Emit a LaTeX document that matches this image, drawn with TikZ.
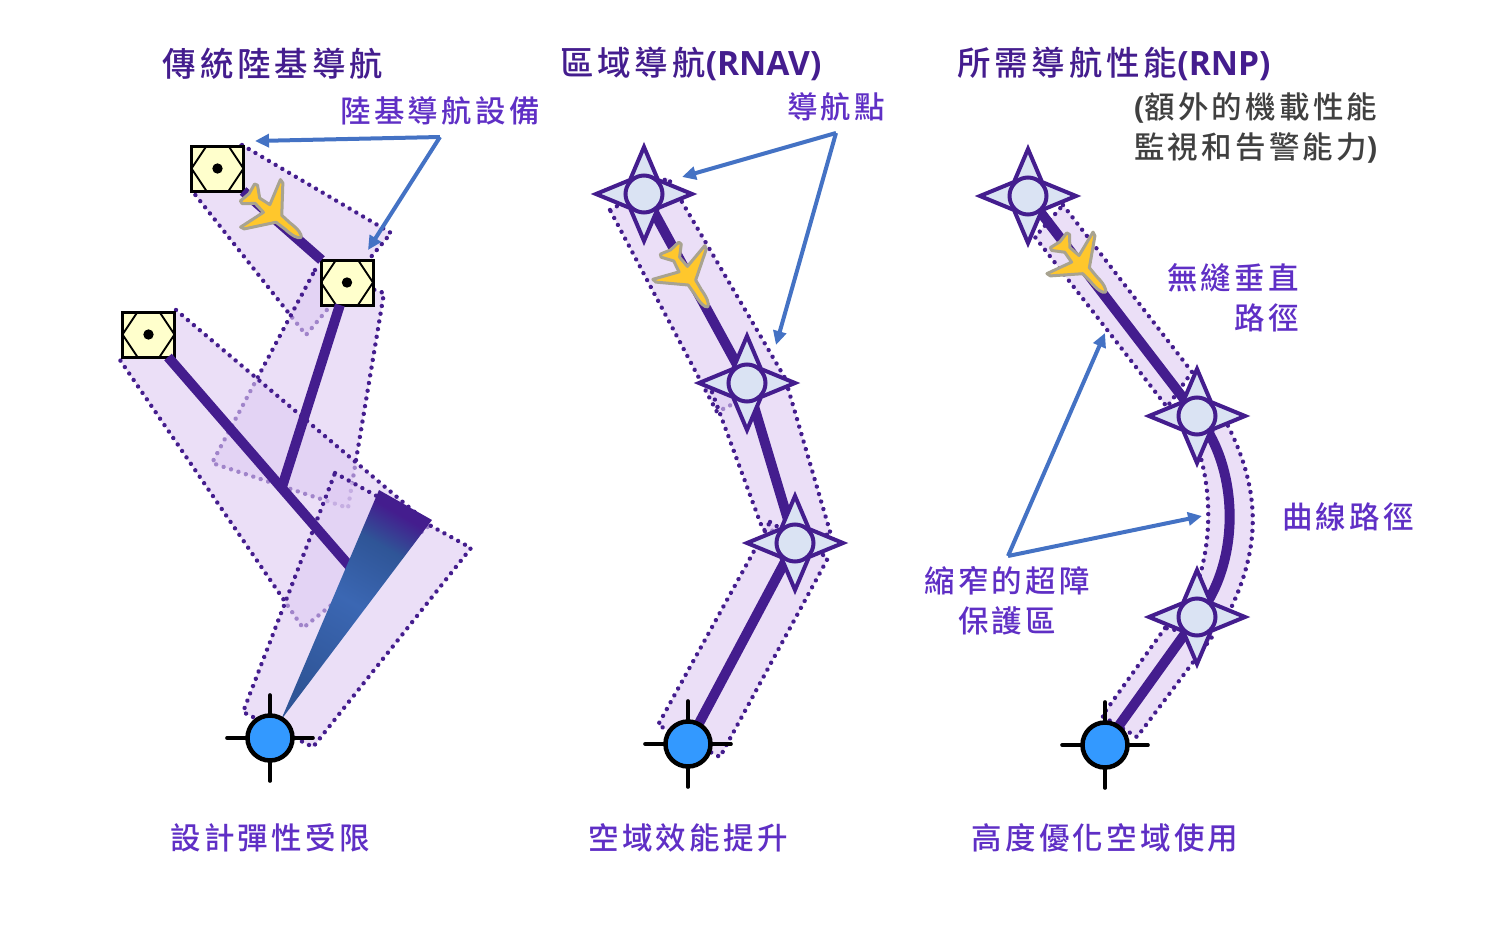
\documentclass[tikz,border=0pt]{standalone}
\usepackage{fontspec}
\usetikzlibrary{arrows.meta}
\newfontfamily\cjkA[LetterSpace=11.5]{Noto Sans CJK TC Medium}
\newfontfamily\cjkB[LetterSpace=10.5]{Noto Sans CJK TC Medium}
\newfontfamily\latB{Open Sans Bold}
\definecolor{deep}{HTML}{441D8E}
\definecolor{mid}{HTML}{5F2FC5}
\definecolor{grey}{HTML}{404040}
\definecolor{cor}{HTML}{DECAF2}
\definecolor{wayfill}{HTML}{DAE3F3}
\definecolor{arrowblue}{HTML}{4472C4}
\definecolor{gold}{HTML}{FFC72C}
\definecolor{planeedge}{HTML}{A8A390}
\definecolor{wa}{HTML}{2F5597}
\definecolor{wb}{HTML}{3B67B3}
\definecolor{wc}{HTML}{2F5597}
\definecolor{wd}{HTML}{441D8E}
\definecolor{apblue}{HTML}{3399FF}
\definecolor{boxfill}{HTML}{FFFFCC}
\pgfdeclareverticalshading{wedgefill}{100bp}{color(0bp)=(wa);color(25bp)=(wa);color(50bp)=(wb);color(66bp)=(wc);color(75bp)=(wd);color(100bp)=(wd)}
\tikzset{
  corridor/.style={fill=cor,fill opacity=.6,draw=deep,line width=4.4pt,line cap=round,line join=round,dash pattern=on 0.01pt off 7.8pt},
  track/.style={draw=deep,line width=10pt},
  nbox/.style={draw=black,fill=boxfill,line width=3pt,minimum width=52pt,minimum height=45pt,inner sep=0pt,outer sep=0pt},
  wayring/.style={circle,draw=deep,fill=wayfill,line width=4pt,minimum size=37pt,inner sep=0pt},
  airport/.style={circle,draw=black,fill=apblue,line width=4.5pt,minimum size=45pt,inner sep=0pt},
  callout/.style={draw=arrowblue,line width=4pt,-{Triangle[length=14pt,width=13pt]}},
  title/.style={text=deep,inner sep=0pt,font=\fontsize{33.5}{40}\selectfont\cjkA},
  lab/.style={text=mid,inner sep=0pt,font=\fontsize{30.5}{40}\selectfont\cjkB},
  note/.style={text=grey,inner sep=0pt,font=\fontsize{30.5}{40}\selectfont\cjkB,align=left},
}
\newcommand\navaid[3]{%
  \node[nbox] (#1) at (#2,#3) {};
  \begin{scope}[shift={(#2,#3)}]
    \draw[black,line width=1.9pt,line join=round] (-26,0)--(-11,-22.5)--(11,-22.5)--(26,0)--(11,22.5)--(-11,22.5)--cycle;
    \fill[black] (0,0) circle (5.2);
  \end{scope}}
\newcommand\waypoint[3]{%
  \draw[deep,fill=wayfill,line width=4pt,line join=miter,shift={(#2,#3)}]
    (0,-47)--(14,-14)--(48,0)--(14,14)--(0,47)--(-14,14)--(-48,0)--(-14,-14)--cycle;
  \node[wayring] (#1) at (#2,#3) {};}
\newcommand\field[3]{%
  \draw[black,line width=3.6pt,line cap=round,shift={(#2,#3)}] (-43,0)--(43,0) (0,-43)--(0,43);
  \node[airport] (#1) at (#2,#3) {};}
\newcommand\plane[3]{%
  \draw[planeedge,fill=gold,line width=3pt,line join=round,shift={(#1,#2)},rotate=#3]
   (38,0)..controls (37,3) and (30,4.5)..(20,4)--(9,4.5)--(-11,30)--(-15,31)--(-7,5)--(-19,3.5)--(-29,12)--(-32,11)--(-30,0)
   --(-32,-11)--(-29,-12)--(-19,-3.5)--(-7,-5)--(-15,-31)--(-11,-30)--(9,-4.5)--(20,-4)..controls (30,-4.5) and (37,-3)..(38,0)--cycle;}
\begin{document}
\begin{tikzpicture}[x=1pt,y=-1pt]
\useasboundingbox (0,0) rectangle (1500,937);
% left panel corridors
\path[corridor] (242,145)--(391,233)--(306,335)--(193,192)--cycle;
\path[corridor] (315,270)--(384,293)--(348,508)--(212,463)--cycle;
\path[corridor] (176,310)--(430,525)--(303,628)--(120,360)--cycle;
\path[corridor] (335,473)--(471,548)--(313,747)--(243,712)--cycle;
\navaid{nA}{217.5}{168.5}
\navaid{nB}{347}{282.5}
\navaid{nC}{148.5}{334.5}
\coordinate (jct) at (282,487);
\coordinate (wedgeEnd) at (352,569);
\draw[track] (nA)--(nB);
\draw[track] (nB)--(jct);
\draw[track] (nC)--(wedgeEnd);
\shade[shading=wedgefill,shading angle=-30] (281,720)--(379,490)--(432,520)--cycle;
\plane{272}{213}{-40}
\field{apL}{270}{738}
% middle panel
\path[corridor] (610,210)--(668,178)--(785,378)--(717,412)--cycle;
\path[corridor] (712,392)--(785,378)--(831,535)--(763,530)--cycle;
\path[corridor] (770,522)--(828,558)--(720,757)--(658,725)--cycle;
\coordinate (mA) at (644,194);
\coordinate (mB) at (747,383);
\coordinate (mC) at (795,543);
\coordinate (mD) at (688,744);
\draw[track,line join=round] (mA)--(mB)--(mC)--(mD);
\waypoint{wA}{644}{194}
\waypoint{wB}{747}{383}
\waypoint{wC}{795}{543}
\plane{687}{275}{-57}
\field{apM}{688}{744}
% right panel
\path[corridor] (1063,205)--(1192,372)--(1167,407)--(1035,237)--cycle;
\path[corridor] (1197,445)..controls (1212,490) and (1212,540)..(1197,585)--(1225,620)..controls (1262,550) and (1262,490)..(1225,420)--cycle;
\path[corridor] (1165,628)--(1102,716)--(1137,737)--(1212,637)--cycle;
\coordinate (rA) at (1028,196);
\coordinate (rB) at (1197,416);
\coordinate (rC) at (1197,617);
\coordinate (rD) at (1105,745);
\draw[track] (rA)--(rB);
\draw[track] (rB)..controls (1238,465) and (1243,560)..(rC);
\draw[track] (rC)--(rD);
\waypoint{xA}{1028}{196}
\waypoint{xB}{1197}{416}
\waypoint{xC}{1197}{617}
\plane{1080}{264}{-48}
\field{apR}{1105}{745}
% callouts
\coordinate (hubL) at (440,137);
\coordinate (tL1) at (255,141);
\coordinate (tL2) at (368,250);
\draw[callout] (hubL)--(tL1);
\draw[callout] (hubL)--(tL2);
\coordinate (hubM) at (836,133);
\coordinate (tM1) at (682,177);
\coordinate (tM2) at (776,345);
\draw[callout] (hubM)--(tM1);
\draw[callout] (hubM)--(tM2);
\coordinate (hubR) at (1008,556);
\coordinate (tR1) at (1105,333);
\coordinate (tR2) at (1202,516);
\draw[callout] (hubR)--(tR1);
\draw[callout] (hubR)--(tR2);
% text
\node[title] (t1) at (273,64) {傳統陸基導航};
\node[title,anchor=west] (t2) at (560,64) {區域導航{\latB (RNAV)}};
\node[title,anchor=west] (t3) at (957,64) {所需導航性能{\latB (RNP)}};
\node[lab] (l1) at (440,111) {陸基導航設備};
\node[lab] (l2) at (836,107) {導航點};
\node[note,anchor=west] (l3) at (1134,128) {{\latB (}額外的機載性能\\監視和告警能力{\latB )}};
\node[lab,align=right,anchor=east] (l4) at (1299,298) {無縫垂直\\路徑};
\node[lab] (l5) at (1348,517) {曲線路徑};
\node[lab,align=center] (l6) at (1007,601) {縮窄的超障\\保護區};
\node[lab] (b1) at (270,838) {設計彈性受限};
\node[lab] (b2) at (688,838) {空域效能提升};
\node[lab] (b3) at (1105,838) {高度優化空域使用};
\end{tikzpicture}
\end{document}
